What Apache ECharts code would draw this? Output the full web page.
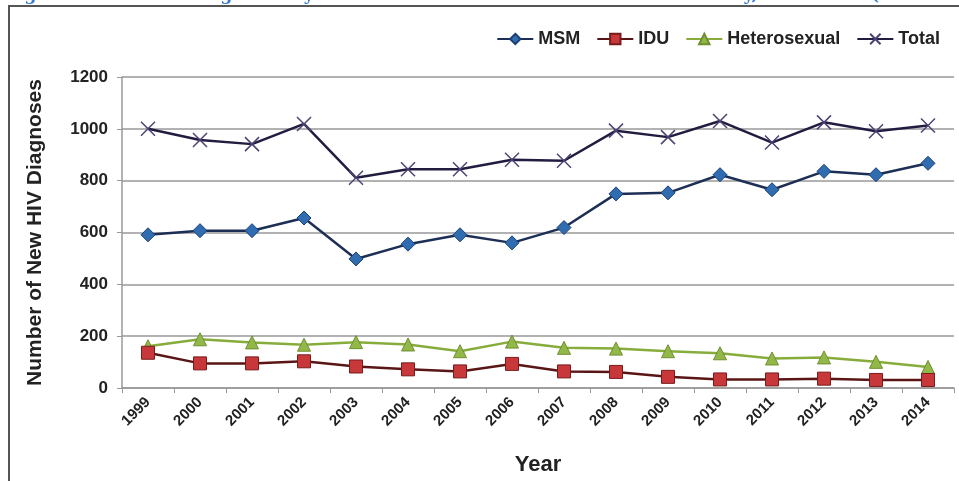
<!DOCTYPE html>
<html>
<head>
<meta charset="utf-8">
<script src="https://cdn.jsdelivr.net/npm/echarts@6/dist/echarts.min.js"></script>
<style>
  html, body { margin: 0; padding: 0; background: #fff; }
  #chart { width: 959px; height: 481px; }
</style>
</head>
<body>
<div id="chart"></div>
<script>
// data
var years = ['1999', '2000', '2001', '2002', '2003', '2004', '2005', '2006',
             '2007', '2008', '2009', '2010', '2011', '2012', '2013', '2014'];
var msm = [591, 607, 607, 656, 498, 555, 591, 560, 619, 749, 753, 823, 765, 836, 823, 867];
var idu = [136, 95, 95, 103, 83, 72, 64, 93, 64, 62, 43, 33, 33, 36, 31, 31];
var hetero = [161, 188, 176, 167, 177, 168, 142, 179, 155, 152, 142, 134, 114, 118, 101, 81];
var total = [1000, 957, 941, 1019, 811, 844, 844, 881, 877, 993, 968, 1030, 947, 1025, 991, 1013];
var yTicks = [0, 200, 400, 600, 800, 1000, 1200];

var font = '"Liberation Sans", Arial, sans-serif';
var crossPath = 'path://M0,0L10,10M10,0L0,10';

let chart = echarts.init(document.getElementById('chart'));
chart.setOption({
  animation: false,
  backgroundColor: '#fff',
  graphic: [
    {
      // title of the figure, cut off by the top of the image
      type: 'text',
      left: 6,
      top: -13,
      style: {
        text: 'Figure 1. New HIV Diagnoses by Transmission Risk in Residents of the County, 1999-2014 (Residents of the County)',
        fill: '#3a7bd0',
        font: 'bold 17px "DejaVu Serif", serif'
      },
      z: 1
    },
    {
      type: 'rect',
      shape: { x: 9, y: 6, width: 990, height: 520 },
      style: { fill: 'none', stroke: '#555', lineWidth: 2 },
      z: 2
    },
    {
      type: 'rect',
      shape: { x: 10, y: 7, width: 990, height: 520 },
      style: { fill: '#fff' },
      z: 0
    }
  ],
  legend: {
    top: 25,
    right: 14,
    itemWidth: 36,
    itemHeight: 13,
    itemGap: 16,
    textStyle: { fontFamily: font, fontWeight: 'bold', fontSize: 18, color: '#222' },
    data: ['MSM', 'IDU', 'Heterosexual', 'Total']
  },
  grid: { left: 122, right: 5, top: 77, bottom: 81 },
  xAxis: {
    type: 'category',
    data: years,
    boundaryGap: true,
    name: 'Year',
    nameLocation: 'middle',
    nameGap: 66,
    nameTextStyle: { fontFamily: font, fontWeight: 'bold', fontSize: 22, color: '#222' },
    axisLine: { lineStyle: { color: '#999', width: 1.5 } },
    axisTick: { show: true, length: 5, lineStyle: { color: '#999' } },
    axisLabel: {
      rotate: 45,
      margin: 12,
      fontFamily: font,
      fontWeight: 'bold',
      fontSize: 15,
      color: '#222'
    }
  },
  yAxis: {
    type: 'value',
    min: yTicks[0],
    max: yTicks[yTicks.length - 1],
    interval: 200,
    name: 'Number of New HIV Diagnoses',
    nameLocation: 'middle',
    nameGap: 76,
    nameTextStyle: { fontFamily: font, fontWeight: 'bold', fontSize: 21, color: '#222' },
    axisLine: { show: true, lineStyle: { color: '#999', width: 1.5 } },
    axisTick: { show: true, length: 5, lineStyle: { color: '#999' } },
    axisLabel: {
      margin: 14,
      fontFamily: font,
      fontWeight: 'bold',
      fontSize: 17,
      color: '#222',
      formatter: function (v) { return String(v); }
    },
    splitLine: { lineStyle: { color: '#999', width: 1.5 } }
  },
  series: [
    {
      name: 'MSM',
      type: 'line',
      data: msm,
      symbol: 'diamond',
      symbolSize: 14,
      lineStyle: { color: '#1d2f55', width: 2.5 },
      itemStyle: { color: '#2f6cb0', borderColor: '#1d3f75', borderWidth: 1 },
      z: 4
    },
    {
      name: 'IDU',
      type: 'line',
      data: idu,
      symbol: 'rect',
      symbolSize: 13,
      lineStyle: { color: '#5a1616', width: 2.5 },
      itemStyle: { color: '#c8373a', borderColor: '#7a1c1c', borderWidth: 1 },
      z: 3
    },
    {
      name: 'Heterosexual',
      type: 'line',
      data: hetero,
      symbol: 'triangle',
      symbolSize: 13,
      lineStyle: { color: '#86ad3c', width: 2.5 },
      itemStyle: { color: '#92b84a', borderColor: '#6f8f2f', borderWidth: 1 },
      z: 2
    },
    {
      name: 'Total',
      type: 'line',
      data: total,
      symbol: crossPath,
      symbolSize: 14,
      lineStyle: { color: '#241c40', width: 2.5 },
      itemStyle: { color: 'transparent', borderColor: '#4d4375', borderWidth: 1.5 },
      z: 5
    }
  ]
});
window.addEventListener('resize', function () {
  chart.resize();
});
</script>
</body>
</html>
